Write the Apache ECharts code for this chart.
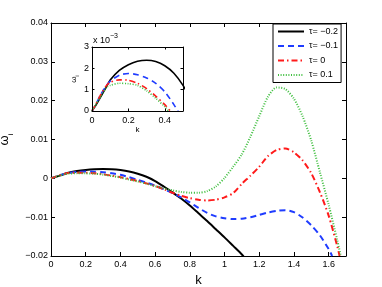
<!DOCTYPE html>
<html><head><meta charset="utf-8">
<script src="https://cdn.jsdelivr.net/npm/echarts@6/dist/echarts.min.js"></script>
<style>html,body{margin:0;padding:0;background:#fff}#c{width:382px;height:287px}</style>
</head><body><div id="c"></div>
<script>
// ---- data ----
const seriesNames = ['τ= −0.2', 'τ= −0.1', 'τ= 0', 'τ= 0.1'];
const kBlack = [0,0.02,0.05,0.08,0.1,0.15,0.2,0.25,0.3,0.35,0.4,0.45,0.5,0.55,0.6,0.65,0.7,0.75,0.8,0.85,0.9,0.95,1.0,1.05,1.1,1.11];
const wBlack = [0,0.00025,0.0007,0.00115,0.00145,0.0019,0.00217,0.00233,0.00238,0.00232,0.00212,0.00177,0.0012,0.0004,-0.0007,-0.0021,-0.0036,-0.0052,-0.0070,-0.0090,-0.0110,-0.0131,-0.0152,-0.0174,-0.0196,-0.0201];
const kBlue = [0,0.02,0.05,0.08,0.1,0.15,0.2,0.25,0.3,0.35,0.4,0.45,0.5,0.55,0.6,0.65,0.7,0.75,0.8,0.85,0.9,0.95,1.0,1.05,1.1,1.15,1.2,1.25,1.3,1.35,1.4,1.45,1.5,1.55,1.6,1.62];
const wBlue = [0,0.0003,0.0008,0.0012,0.0014,0.00168,0.00176,0.0017,0.00155,0.0013,0.0009,0.0003,-0.0004,-0.0011,-0.0019,-0.0028,-0.0038,-0.0049,-0.0062,-0.0076,-0.0089,-0.0098,-0.0103,-0.0105,-0.0104,-0.0100,-0.0094,-0.0088,-0.0084,-0.0082,-0.0087,-0.0101,-0.0121,-0.0147,-0.0182,-0.0200];
const kRed = [0,0.02,0.05,0.08,0.1,0.15,0.2,0.25,0.3,0.35,0.4,0.45,0.5,0.55,0.6,0.65,0.7,0.75,0.8,0.85,0.9,0.95,1.0,1.05,1.1,1.15,1.2,1.25,1.3,1.35,1.4,1.45,1.5,1.55,1.6,1.65,1.663];
const wRed = [0,0.0003,0.0008,0.0012,0.00135,0.00146,0.00144,0.0013,0.00105,0.0007,0.0003,-0.0002,-0.0007,-0.0013,-0.0020,-0.0028,-0.0037,-0.0045,-0.0051,-0.0055,-0.0057,-0.0055,-0.0049,-0.0038,-0.0014,0.0007,0.0030,0.0057,0.0073,0.0077,0.0067,0.0046,0.0013,-0.0036,-0.0096,-0.0175,-0.0200];
const kGreen = [0,0.02,0.05,0.08,0.1,0.15,0.2,0.25,0.3,0.35,0.4,0.45,0.5,0.55,0.6,0.65,0.7,0.75,0.8,0.85,0.9,0.95,1.0,1.05,1.1,1.15,1.2,1.25,1.3,1.35,1.4,1.45,1.5,1.55,1.6,1.65,1.67];
const wGreen = [0,0.0003,0.0007,0.0011,0.0012,0.0013,0.00128,0.0012,0.00095,0.0006,0.0002,-0.0003,-0.0008,-0.0014,-0.0020,-0.0026,-0.0031,-0.0035,-0.0037,-0.0037,-0.0033,-0.0021,0.0001,0.0030,0.0062,0.0108,0.0160,0.0210,0.0234,0.0230,0.0205,0.0160,0.0097,0.0015,-0.0068,-0.0160,-0.0200];

const pair = (ks, ws) => ks.map((k, i) => [k, ws[i]]);
const curves = [
  {name: seriesNames[0], data: pair(kBlack, wBlack), color: '#000000', type: 'solid', width: 2},
  {name: seriesNames[1], data: pair(kBlue, wBlue), color: '#1f3cff', type: [6, 4], width: 2},
  {name: seriesNames[2], data: pair(kRed, wRed), color: '#ff1a1a', type: [6, 3, 1.5, 3], width: 2},
  {name: seriesNames[3], data: pair(kGreen, wGreen), color: '#3fbf3f', type: [1, 1.6], width: 2}
];

const FONT = 'Liberation Sans, Arial, sans-serif';
const minus = v => {
  const s = (Math.abs(v) < 1e-12) ? '0' : String(+Math.abs(v).toFixed(4));
  return v < -1e-12 ? '−' + s : s;
};

function xAx(grid, pos, min, max, interval, labels, extra) {
  return Object.assign({
    type: 'value', gridIndex: grid, position: pos, min, max, interval,
    axisLine: {show: true, onZero: false, lineStyle: {color: '#000', width: 1}},
    axisTick: {show: true, inside: true, length: grid === 0 ? 4 : 2.5, lineStyle: {color: '#000'}},
    axisLabel: {show: labels, showMaxLabel: false, color: '#000', fontSize: 9, fontFamily: FONT, margin: grid === 0 ? 4 : 5},
    splitLine: {show: false}
  }, extra || {});
}
function yAx(grid, pos, min, max, interval, labels, fmt, extra) {
  return Object.assign({
    type: 'value', gridIndex: grid, position: pos, min, max, interval,
    axisLine: {show: true, onZero: false, lineStyle: {color: '#000', width: 1}},
    axisTick: {show: true, inside: true, length: grid === 0 ? 4 : 2.5, lineStyle: {color: '#000'}},
    axisLabel: {show: labels, color: '#000', fontSize: 9, fontFamily: FONT, margin: 3, formatter: fmt},
    splitLine: {show: false}
  }, extra || {});
}

const series = [];
curves.forEach(c => {
  series.push({type: 'line', name: c.name, xAxisIndex: 0, yAxisIndex: 0, data: c.data,
    showSymbol: false, symbol: 'none', smooth: 0.25, clip: true, color: c.color,
    lineStyle: {color: c.color, width: c.width, type: c.type}, z: 3});
});
curves.forEach(c => {
  series.push({type: 'line', name: c.name, xAxisIndex: 2, yAxisIndex: 2, data: c.data,
    showSymbol: false, symbol: 'none', smooth: 0.25, clip: true, color: c.color,
    lineStyle: {color: c.color, width: 1.6, type: c.type}, z: 5});
});

const chart = echarts.init(document.getElementById('c'), null, {renderer: 'canvas'});
chart.setOption({
  animation: false,
  backgroundColor: '#fff',
  textStyle: {fontFamily: FONT},
  grid: [
    {left: 51, top: 23, width: 295, height: 233, show: false, containLabel: false, outerBoundsMode: 'none'},
    {left: 92, top: 47, width: 91, height: 64, show: true, backgroundColor: '#fff', borderWidth: 0, z: 4,
      containLabel: false, outerBoundsMode: 'none'}
  ],
  xAxis: [
    xAx(0, 'bottom', 0, 1.7, 0.2, true, {name: 'k', nameLocation: 'middle', nameGap: 10,
      nameTextStyle: {fontSize: 13, color: '#000', fontFamily: FONT}}),
    xAx(0, 'top', 0, 1.7, 0.2, false),
    xAx(1, 'bottom', 0, 0.5, 0.2, true, {name: 'k', nameLocation: 'middle', nameGap: 13, z: 6,
      nameTextStyle: {fontSize: 8, color: '#000', fontFamily: FONT}}),
    xAx(1, 'top', 0, 0.5, 0.2, false, {z: 6})
  ],
  yAxis: [
    yAx(0, 'left', -0.02, 0.04, 0.01, true, v => minus(+v.toFixed(4)), {
      name: '{w|ω}{s|i}', nameLocation: 'middle', nameGap: 33,
      nameTextStyle: {color: '#000', fontFamily: FONT, rich: {
        w: {fontSize: 13, color: '#000', fontFamily: FONT, verticalAlign: 'bottom'},
        s: {fontSize: 8, color: '#000', fontFamily: FONT, verticalAlign: 'bottom', padding: [0, 0, -3, 0]}
      }}}),
    yAx(0, 'right', -0.02, 0.04, 0.01, false),
    yAx(1, 'left', 0, 0.003, 0.001, true, v => String(Math.round(v * 1000)), {
      z: 6,
      name: '{w|ω}{s|i}', nameLocation: 'middle', nameGap: 12,
      nameTextStyle: {color: '#000', fontFamily: FONT, rich: {
        w: {fontSize: 8, color: '#000', fontFamily: FONT, verticalAlign: 'bottom'},
        s: {fontSize: 5, color: '#000', fontFamily: FONT, verticalAlign: 'bottom', padding: [0, 0, -2, 0]}
      }}}),
    yAx(1, 'right', 0, 0.003, 0.001, false, null, {z: 6})
  ],
  graphic: [
    {type: 'text', left: 93, top: 33, z: 10,
      style: {rich: {a: {fontSize: 9, fill: '#000', fontFamily: FONT, verticalAlign: 'bottom'},
                     b: {fontSize: 7, fill: '#000', fontFamily: FONT, verticalAlign: 'bottom', padding: [0, 0, 5, 0]}},
        text: '{a|x 10}{b|−3}'}}
  ],
  legend: {
    data: seriesNames, orient: 'vertical', left: 273, top: 24,
    backgroundColor: '#fff', borderColor: '#000', borderWidth: 1, borderRadius: 0,
    padding: [2, 3, 2, 4], itemWidth: 26, itemHeight: 10, itemGap: 3.5,
    itemStyle: {opacity: 0},
    textStyle: {fontSize: 9, color: '#000', fontFamily: FONT, lineHeight: 11},
    selectedMode: false
  },
  series
});
</script></body></html>
